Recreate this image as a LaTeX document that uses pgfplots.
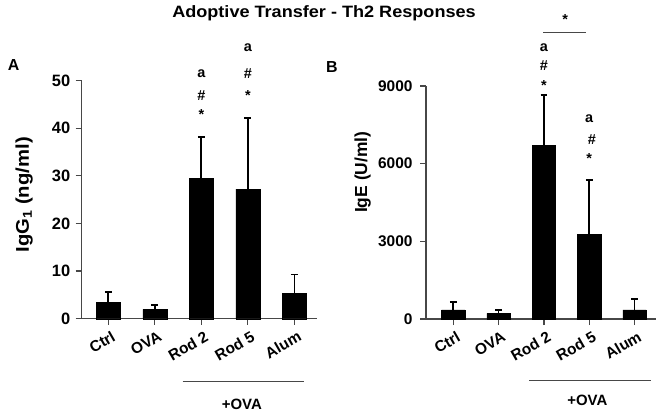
\documentclass[border=0pt]{standalone}
\usepackage{pgfplots}
\pgfplotsset{compat=1.18}
\usepackage{fontspec}
\setmainfont{Liberation Sans}
\newfontfamily\titlefont[FakeStretch=1.1]{Liberation Sans}
\newfontfamily\widefont[FakeStretch=1.1]{Liberation Sans}
\begin{document}
\begin{tikzpicture}
\path[use as bounding box] (0bp,0bp) rectangle (664bp,415bp);
\pgfplotsset{
  myax/.style={
    scale only axis,
    axis x line=bottom, axis y line=left,
    axis line style={-, line width=1.2bp, black!72},
    tick align=outside,
    major tick length=6bp,
    tick style={line width=1.2bp, black!72},
    /pgf/number format/assume math mode=true,
    xtick={0,1,2,3,4},
    xticklabels={Ctrl,OVA,Rod 2,Rod 5,Alum},
    xticklabel style={font=\fontsize{15.5}{17}\selectfont\bfseries, text=black, rotate=30, anchor=north east, inner sep=2bp, xshift=1.5bp, yshift=-4bp},
    ymin=0,
    clip=false,
    ylabel style={anchor=center},
    error bars/error bar style={line width=1.7bp, black},
    error bars/error mark options={rotate=90, mark size=3.4bp, line width=1.8bp, black},
  }
}
\node[font=\titlefont\fontsize{16.5}{18}\selectfont\bfseries] at (324bp,402bp) {Adoptive Transfer - Th2 Responses};
\node[font=\fontsize{16}{18}\selectfont\bfseries] at (13.7bp,350bp) {A};
\node[font=\fontsize{16}{18}\selectfont\bfseries] at (332bp,347.5bp) {B};

% Panel A
\begin{axis}[myax,
  at={(81.7bp,96.3bp)}, anchor=south west,
  width=235bp, height=238bp,
  xmin=-0.572, xmax=4.48,
  ymax=50, ytick={0,10,20,30,40,50},
  yticklabel style={font=\fontsize{16.5}{18}\selectfont\bfseries, text=black, xshift=-2bp},
  ylabel={IgG\textsubscript{1} (ng/ml)},
  ylabel style={font=\widefont\fontsize{18.5}{20}\selectfont\bfseries, at={(axis description cs:-0.245,0.52)}},
]
\addplot[ybar, bar width=24bp, fill=black, draw=black, bar shift=0pt,
  error bars/.cd, y dir=plus, y explicit]
  coordinates {
  (0,3.45) +- (0,2.15)
  (1,1.97) +- (0,0.83)
  (2,29.5) +- (0,8.7)
  (3,27.2) +- (0,15.0)
  (4,5.3) +- (0,4.0)
  };
\begin{scope}[every node/.style={font=\fontsize{14.5}{16}\selectfont\bfseries}]
\node at (axis cs:2,42.8) {*};
\node at (axis cs:2,46.8) {\#};
\node at (axis cs:2,51.5) {a};
\node at (axis cs:3,46.8) {*};
\node at (axis cs:3,51.5) {\#};
\node at (axis cs:3,57.0) {a};
\draw[line width=1.2bp, black!72] (axis cs:1.6,-13.15) -- (axis cs:4.21,-13.15);
\node[font=\fontsize{15}{17}\selectfont\bfseries] at (axis cs:2.87,-17.9) {+OVA};
\end{scope}
\end{axis}

% Panel B
\begin{axis}[myax,
  at={(426bp,96bp)}, anchor=south west,
  width=230bp, height=233bp,
  xmin=-0.603, xmax=4.475,
  ymax=9000, ytick={0,3000,6000,9000},
  scaled y ticks=false,
  yticklabel style={font=\fontsize{15.5}{17}\selectfont\bfseries, text=black, xshift=-4bp, /pgf/number format/set thousands separator={}},
  ylabel={IgE (U/ml)},
  ylabel style={font=\fontsize{17.5}{19}\selectfont\bfseries, at={(axis description cs:-0.275,0.63)}},
]
\addplot[ybar, bar width=23.3bp, fill=black, draw=black, bar shift=0pt,
  error bars/.cd, y dir=plus, y explicit]
  coordinates {
  (0,348) +- (0,322)
  (1,220) +- (0,120)
  (2,6710) +- (0,1955)
  (3,3283) +- (0,2074)
  (4,348) +- (0,424)
  };
\begin{scope}[every node/.style={font=\fontsize{14.5}{16}\selectfont\bfseries}]
\node at (axis cs:2,9000) {*};
\node at (axis cs:2,9800) {\#};
\node at (axis cs:2,10495) {a};
\node at (axis cs:3,6192) {*};
\node at (axis cs:3.06,6941) {\#};
\node at (axis cs:3,7725) {a};
\draw[line width=1.2bp, black!72] (axis cs:1.99,11074) -- (axis cs:2.93,11074);
\node at (axis cs:2.47,11549) {*};
\draw[line width=1.2bp, black!72] (axis cs:1.68,-2383) -- (axis cs:4.36,-2383);
\node[font=\fontsize{15}{17}\selectfont\bfseries] at (axis cs:2.96,-3129) {+OVA};
\end{scope}
\end{axis}
\end{tikzpicture}
\end{document}
